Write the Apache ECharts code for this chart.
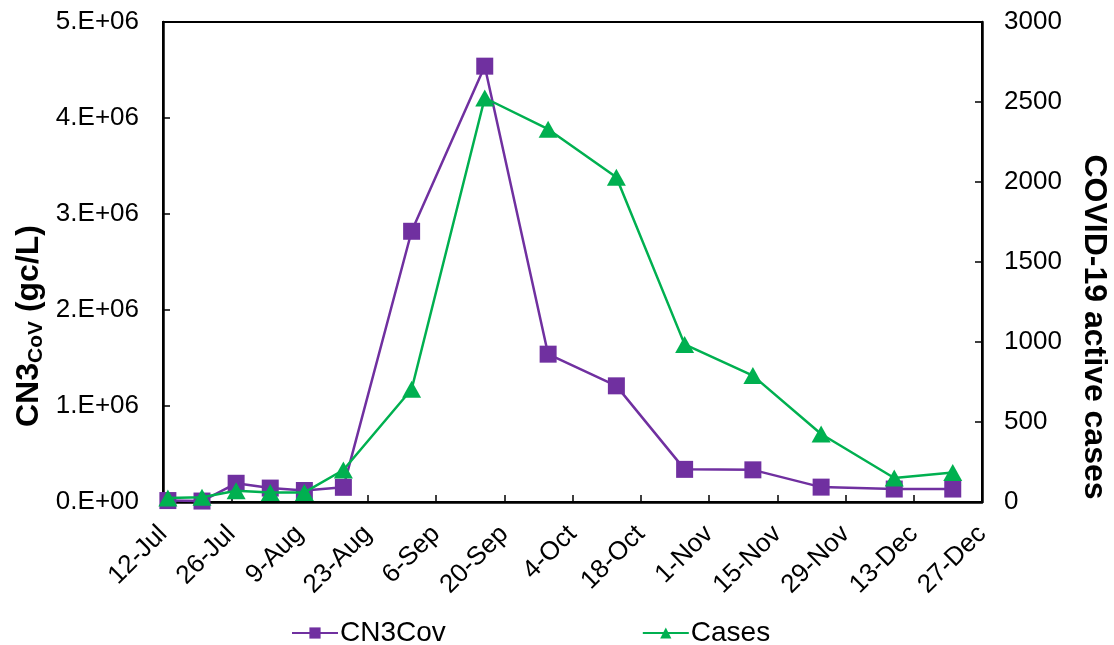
<!DOCTYPE html>
<html>
<head>
<meta charset="utf-8">
<script src="https://cdn.jsdelivr.net/npm/echarts@6/dist/echarts.min.js"></script>
<style>
  html, body { margin: 0; padding: 0; background: #fff; }
  #chart { width: 1114px; height: 645px; }
</style>
</head>
<body>
<div id="chart"></div>
<script>
// Sampling dates (2020) and measured values
const sampleDates = ['2020-07-13', '2020-07-20', '2020-07-27', '2020-08-03', '2020-08-10', '2020-08-18',
  '2020-09-01', '2020-09-16', '2020-09-29', '2020-10-13', '2020-10-27', '2020-11-10',
  '2020-11-24', '2020-12-09', '2020-12-21'];
const cn3Cov = [1.5e4, 1.0e4, 1.95e5, 1.45e5, 1.2e5, 1.53e5, 2.82e6, 4.54e6, 1.54e6, 1.21e6,
  3.4e5, 3.35e5, 1.55e5, 1.35e5, 1.35e5];
const activeCases = [25, 30, 70, 60, 60, 200, 705, 2525, 2330, 2030, 985, 790, 425, 150, 185];

// X axis runs from 12-Jul to 27-Dec with a tick every 14 days
const axisStart = '2020-07-12';
const axisDays = 168;
const tickDays = 14;
const monthNames = ['Jan', 'Feb', 'Mar', 'Apr', 'May', 'Jun', 'Jul', 'Aug', 'Sep', 'Oct', 'Nov', 'Dec'];

const DAY = 86400000;
const t0 = Date.parse(axisStart + 'T00:00:00Z');
const dayOffset = d => Math.round((Date.parse(d + 'T00:00:00Z') - t0) / DAY);
const dayLabel = v => {
  const dt = new Date(t0 + v * DAY);
  return dt.getUTCDate() + '-' + monthNames[dt.getUTCMonth()];
};

const cnData = sampleDates.map((d, i) => [dayOffset(d), cn3Cov[i]]);
const caseData = sampleDates.map((d, i) => [dayOffset(d), activeCases[i]]);

const FONT = '"Liberation Sans", Arial, sans-serif';
const PURPLE = '#7030A0';
const GREEN = '#00B050';

const chart = echarts.init(document.getElementById('chart'), null, { renderer: 'canvas' });
chart.setOption({
  animation: false,
  backgroundColor: '#fff',
  textStyle: { fontFamily: FONT, color: '#000' },
  grid: {
    left: 163, right: 132, top: 22, bottom: 143,
    show: true, borderColor: '#000', borderWidth: 2, backgroundColor: 'transparent'
  },
  legend: {
    left: 286, top: 614,
    itemWidth: 46, itemHeight: 14, itemGap: 196,
    textStyle: { fontFamily: FONT, fontSize: 28, color: '#000', padding: [0, 0, 0, -3] },
    data: ['CN3Cov', 'Cases']
  },
  xAxis: {
    type: 'value', min: 0, max: axisDays, interval: tickDays,
    splitLine: { show: false },
    axisLine: { show: true, lineStyle: { color: '#000', width: 2.5 } },
    axisTick: { show: true, inside: true, length: 7, lineStyle: { color: '#000', width: 1.5 } },
    axisLabel: {
      rotate: 45, margin: 28, fontSize: 26, color: '#000', fontFamily: FONT,
      formatter: dayLabel, showMinLabel: true, showMaxLabel: true
    }
  },
  yAxis: [
    {
      type: 'value', min: 0, max: 5e6, interval: 1e6, position: 'left',
      splitLine: { show: false },
      axisLine: { show: true, lineStyle: { color: '#000', width: 2.5 } },
      axisTick: { show: true, inside: true, length: 7, lineStyle: { color: '#000', width: 1.5 } },
      axisLabel: {
        margin: 24, fontSize: 26, color: '#000', fontFamily: FONT,
        formatter: v => (v / 1e6).toFixed(0) + '.E+' + (v === 0 ? '00' : '06')
      }
    },
    {
      type: 'value', min: 0, max: 3000, interval: 500, position: 'right',
      splitLine: { show: false },
      axisLine: { show: true, lineStyle: { color: '#000', width: 2.5 } },
      axisTick: { show: true, inside: true, length: 7, lineStyle: { color: '#000', width: 1.5 } },
      axisLabel: { margin: 22, fontSize: 26, color: '#000', fontFamily: FONT, formatter: v => String(v) }
    }
  ],
  graphic: [
    {
      type: 'text', x: 29, y: 326, rotation: Math.PI / 2,
      style: {
        text: 'CN3{sub|CoV} (gc/L)',
        font: 'bold 32px ' + FONT,
        fill: '#000', align: 'center', verticalAlign: 'middle',
        rich: {
          sub: { font: 'bold 21px ' + FONT, fill: '#000', padding: [14, 0, 0, 0] }
        }
      }
    },
    {
      type: 'text', x: 1094, y: 327, rotation: -Math.PI / 2,
      style: {
        text: 'COVID-19 active cases',
        font: 'bold 32px ' + FONT,
        fill: '#000', align: 'center', verticalAlign: 'middle'
      }
    }
  ],
  series: [
    {
      name: 'CN3Cov', type: 'line', yAxisIndex: 0, data: cnData,
      symbol: 'rect', symbolSize: 17,
      lineStyle: { color: PURPLE, width: 2.5 },
      itemStyle: { color: PURPLE },
      z: 2
    },
    {
      name: 'Cases', type: 'line', yAxisIndex: 1, data: caseData,
      symbol: 'triangle', symbolSize: [19, 17],
      lineStyle: { color: GREEN, width: 2.5 },
      itemStyle: { color: GREEN },
      z: 3
    }
  ]
});
</script>
</body>
</html>
